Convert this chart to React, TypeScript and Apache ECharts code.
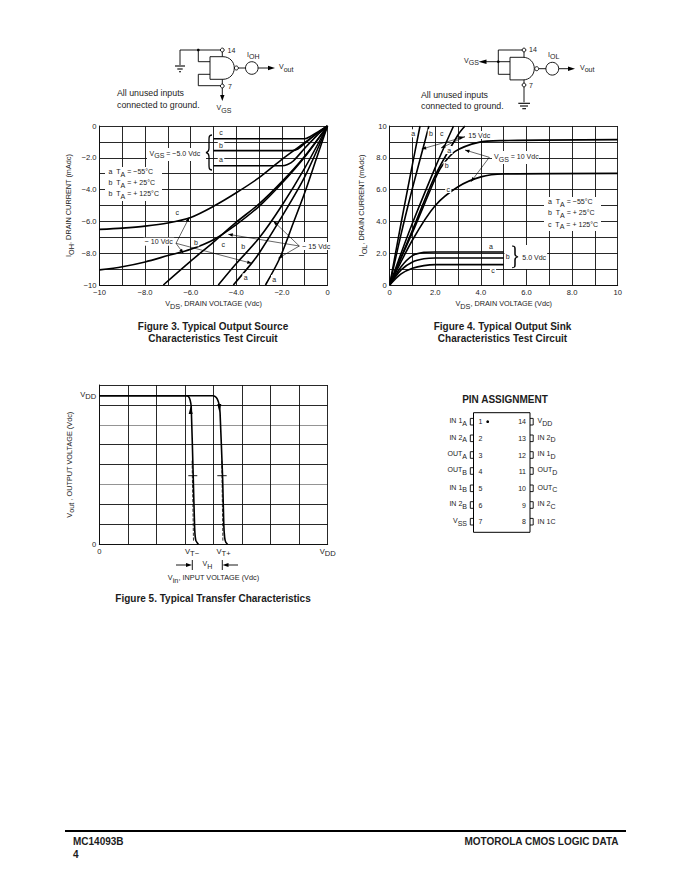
import React, { useEffect, useRef } from "react";
import * as echarts from "echarts";

// ---------- Figure 3 data (VDS, IOH) ----------
const fig3XLabels = ["−10", "", "−8.0", "", "−6.0", "", "−4.0", "", "−2.0", "", "0"];
const fig3YLabels = ["−10", "", "−8.0", "", "−6.0", "", "−4.0", "", "−2.0", "", "0"];
const src5a = [[-5, -2.5], [-2, -2.5], [-1.75, -2.42], [-1.5, -2.2], [-1, -1.4], [-0.5, -0.65], [0, 0]];
const src5b = [[-5, -1.55], [-1.55, -1.55], [-1.3, -1.45], [-1, -1.1], [-0.5, -0.5], [0, 0]];
const src5c = [[-5, -0.8], [-1, -0.8], [-0.75, -0.65], [-0.4, -0.35], [0, 0]];
const src10c = [[-10, -6.5], [-9, -6.42], [-8, -6.3], [-7, -6.1], [-6, -5.75], [-5, -5.05], [-4, -4.2], [-3, -3.25], [-2, -2.1], [-1, -1.05], [0, 0]];
const src10b = [[-10, -9.05], [-9, -8.85], [-8, -8.55], [-7, -8.15], [-6, -7.75], [-5, -7.15], [-4, -6.2], [-3, -5.05], [-2, -3.6], [-1, -1.95], [0, 0]];
const src15c = [[-7.2, -10], [-6, -8.5], [-5, -7.3], [-4, -6.05], [-3, -4.9], [-2, -3.5], [-1, -1.9], [0, 0]];
const src15b = [[-4.79, -10], [-4, -8.65], [-3, -7.05], [-2, -5.0], [-1, -2.65], [0, 0]];
const src10a = [[-4.13, -10], [-3.33, -8.64], [-3, -8.0], [-2, -5.7], [-1, -3.2], [0, 0]];
const src15a = [[-2.72, -10], [-2.09, -8.3], [-1.5, -6.1], [-1, -4.2], [-0.5, -2.1], [0, 0]];
const fig3Curves = [src5a, src5b, src5c, src10c, src10b, src15c, src15b, src10a, src15a];

// ---------- Figure 4 data (VDS, IOL) ----------
const fig4XLabels = ["0", "", "2.0", "", "4.0", "", "6.0", "", "8.0", "", "10"];
const fig4YLabels = ["0", "", "2.0", "", "4.0", "", "6.0", "", "8.0", "", "10"];
const snk5a = [[0, 0], [0.5, 1.15], [1, 1.85], [1.5, 2.05], [2, 2.08], [5, 2.08]];
const snk5b = [[0, 0], [0.5, 0.95], [1, 1.45], [1.5, 1.65], [2, 1.7], [5, 1.7]];
const snk5c = [[0, 0], [0.5, 0.7], [1, 1.05], [1.5, 1.22], [2, 1.28], [5, 1.28]];
const snk10c = [[0, 0], [1, 2.83], [2, 5.0], [3, 6.18], [4, 6.8], [5, 6.98], [10, 7.02]];
const snk10b = [[0, 0], [0.5, 1.7], [1, 3.3], [2, 6.7], [2.3, 7.5], [2.87, 8.4], [3.9, 8.97], [4.9, 9.08], [10, 9.14]];
const snkS1 = [[0, 0], [0.5, 3.9], [1, 7.6], [1.33, 10]];
const snkS2 = [[0, 0], [0.5, 3.2], [1, 6.1], [1.5, 8.8], [1.72, 10]];
const snkS3 = [[0, 0], [0.5, 2.0], [1, 3.9], [2, 7.4], [2.8, 10]];
const snkS4 = [[0, 0], [0.5, 1.75], [1, 3.45], [2, 6.9], [3, 9.45], [3.3, 10]];
const fig4Curves = [snk5a, snk5b, snk5c, snk10c, snk10b, snkS1, snkS2, snkS3, snkS4];

// ---------- Figure 5 data (Vin, Vout), arbitrary grid units ----------
const vddLevel = 7.46;
const vtMinus = 3.25;
const vtPlus = 4.35;
const riseCurve = [[0, 7.46], [3.04, 7.46], [3.12, 7.42], [3.18, 7.25], [3.22, 6.9], [3.29, 3.4], [3.34, 0.8], [3.38, 0.2], [3.47, 0]];
const fallCurve = [[0, 7.46], [3.98, 7.46], [4.05, 7.43], [4.13, 7.3], [4.2, 7.0], [4.23, 6.6], [4.32, 3.3], [4.36, 1.0], [4.39, 0.35], [4.43, 0.1], [4.49, 0]];
const riseDash = [[3.25, 4.2], [3.3, 0.1]];
const fallDash = [[4.29, 4.2], [4.33, 0.1]];

// ---------- Pin table ----------
const pinsLeft = ["IN 1~A~", "IN 2~A~", "OUT~A~", "OUT~B~", "IN 1~B~", "IN 2~B~", "V~SS~"];
const pinsRight = ["V~DD~", "IN 2~D~", "IN 1~D~", "OUT~D~", "OUT~C~", "IN 2~C~", "IN 1C"];
const pinRows = [421.7, 438.3, 455, 471, 488.3, 505, 521.7];

const FONT = '"Liberation Sans", Arial, sans-serif';
const INK = "#1c1c1c";
const BLACK = "#000";

echarts.graphic.registerShape(
  "brace",
  echarts.graphic.extendPath("M6 0 C3 0 3 2 3 5 L3 13 C3 16 2 17 0 17.5 C2 18 3 19 3 22 L3 30 C3 33 3 35 6 35", {})
);
echarts.graphic.registerShape(
  "nandGate",
  echarts.graphic.extendPath("M0 0 L13 0 C19.5 0 24.3 5 24.3 11.3 C24.3 17.6 19.5 22.6 13 22.6 L0 22.6 Z", {})
);

function richStyles(size: number, bold = false) {
  const common = { fontSize: size, fontFamily: FONT, fill: INK, color: INK, fontWeight: bold ? "bold" : "normal", lineHeight: size + 2.5 };
  return {
    n: { ...common, verticalAlign: "top" },
    s: { ...common, verticalAlign: "bottom" },
  };
}
function rt(s: string) {
  if (!s.includes("~")) return s;
  return s
    .split("~")
    .map((p, i) => (p === "" ? "" : `{${i % 2 ? "s" : "n"}|${p}}`))
    .join("");
}

type TOpt = { size?: number; bold?: boolean; align?: string; bg?: boolean; z?: number; pad?: number[]; sx?: number };
function T(x: number, y: number, s: string, o: TOpt = {}) {
  const size = o.size ?? 8;
  const style: any = {
    text: rt(s),
    fill: INK,
    fontSize: size,
    fontFamily: FONT,
    fontWeight: o.bold ? "bold" : "normal",
    align: o.align ?? "left",
    verticalAlign: "middle",
  };
  if (s.includes("~")) style.rich = richStyles(size, o.bold);
  if (o.bg) {
    style.backgroundColor = "#fff";
    style.padding = o.pad ?? [0, 1.5, 0, 1.5];
  }
  return { type: "text", x, y, scaleX: o.sx ?? (o.bold ? 1 : 0.88), z: o.z ?? 20, silent: true, style };
}
function R(x: number, y: number, width: number, height: number) {
  return { type: "rect", z: 19, silent: true, shape: { x, y, width, height }, style: { fill: "#fff" } };
}
function L(points: number[][], w = 0.9, color = BLACK, z = 21) {
  return { type: "polyline", z, silent: true, shape: { points }, style: { stroke: color, fill: "none", lineWidth: w } };
}
function head(tx: number, ty: number, hx: number, hy: number, len = 4.5, half = 1.7, z = 22) {
  const d = Math.hypot(hx - tx, hy - ty) || 1;
  const ux = (hx - tx) / d;
  const uy = (hy - ty) / d;
  const bx = hx - ux * len;
  const by = hy - uy * len;
  return {
    type: "polygon",
    z,
    silent: true,
    shape: { points: [[hx, hy], [bx - uy * half, by + ux * half], [bx + uy * half, by - ux * half]] },
    style: { fill: BLACK },
  };
}
function arrow(tx: number, ty: number, hx: number, hy: number, w = 0.6) {
  return [L([[tx, ty], [hx, hy]], w), head(tx, ty, hx, hy)];
}
function C(cx: number, cy: number, r: number, w = 0.9, z = 22) {
  return { type: "circle", z, silent: true, shape: { cx, cy, r }, style: { stroke: BLACK, fill: "#fff", lineWidth: w } };
}

function buildGraphics() {
  const g: any[] = [];
  const note = { size: 8.8, sx: 1 };

  // ---- Circuit A (source) ----
  g.push(
    L([[222.3, 50], [180, 50], [180, 65]]),
    L([[175, 66], [185, 66]], 1.1),
    L([[177.3, 69], [182.7, 69]], 1.1),
    L([[179, 71.7], [181, 71.7]], 1.1),
    L([[198.3, 50], [198.3, 61.7], [210, 61.7]]),
    L([[210, 74.3], [198.3, 74.3], [198.3, 85.7], [222.3, 85.7]]),
    L([[222.3, 50], [222.3, 56.7]]),
    L([[222.3, 79.3], [222.3, 85.7]]),
    { type: "circle", z: 22, silent: true, shape: { cx: 198.3, cy: 50, r: 1.3 }, style: { fill: BLACK } },
    { type: "nandGate", x: 210, y: 56.7, z: 21, silent: true, style: { stroke: BLACK, fill: "#fff", lineWidth: 0.9 } },
    C(222.3, 50, 1.9),
    C(222.3, 86, 1.9),
    C(236.4, 68, 2),
    L([[238.4, 68], [245.5, 68]]),
    C(251.8, 68, 6.3),
    L([[258.1, 68], [270, 68]]),
    head(258, 68, 275, 68, 7, 2.2),
    L([[222.3, 88], [222.3, 97]]),
    head(222.3, 88, 222.3, 101, 6, 2.2),
    T(227.5, 50, "14"),
    T(228, 86.7, "7"),
    T(247, 55.5, "I~OH~"),
    T(279, 68, "V~out~"),
    T(216.5, 109, "V~GS~"),
    T(117, 93, "All unused inputs", note),
    T(117, 104.5, "connected to ground.", note)
  );

  // ---- Circuit B (sink) ----
  g.push(
    L([[498.3, 61.7], [498.3, 50], [524, 50]]),
    L([[483, 61.7], [510, 61.7]]),
    head(495, 61.7, 478.5, 61.7, 8, 2.2),
    L([[498.3, 61.7], [498.3, 74.3], [510, 74.3]]),
    L([[524, 50], [524, 57.3]]),
    L([[524, 80], [524, 102.3]]),
    { type: "circle", z: 22, silent: true, shape: { cx: 498.3, cy: 61.7, r: 1.3 }, style: { fill: BLACK } },
    { type: "nandGate", x: 510, y: 57.3, z: 21, silent: true, style: { stroke: BLACK, fill: "#fff", lineWidth: 0.9 } },
    C(524, 50, 1.9),
    C(524, 85, 1.9),
    C(536.7, 68.7, 2),
    L([[538.7, 68.7], [546, 68.7]]),
    C(552.3, 68.7, 6.4),
    L([[558.7, 68.7], [570, 68.7]]),
    head(558, 68.7, 575, 68.7, 7, 2.2),
    L([[518.3, 103.3], [530, 103.3]], 1.1),
    L([[520, 106], [528, 106]], 1.1),
    L([[522.3, 108.7], [526, 108.7]], 1.1),
    T(529, 49.5, "14"),
    T(529, 85.5, "7"),
    T(548, 55.5, "I~OL~"),
    T(580, 68.5, "V~out~"),
    T(464, 61.5, "V~GS~"),
    T(421, 94.5, "All unused inputs", note),
    T(421, 106, "connected to ground.", note)
  );

  // ---- Figure 3 annotations ----
  g.push(
    R(105, 167, 57, 34),
    T(108.5, 173, "a  T~A~ = −55°C"),
    T(108.5, 184, "b  T~A~ = + 25°C"),
    T(108.5, 195, "b  T~A~ = + 125°C"),
    R(147, 148, 59, 13),
    T(149.5, 154.5, "V~GS~ = −5.0 Vdc"),
    { type: "brace", x: 206, y: 135, z: 21, silent: true, style: { stroke: BLACK, fill: "none", lineWidth: 1.3 } },
    T(221, 132.5, "c", { bg: true, align: "center" }),
    T(221, 145, "b", { bg: true, align: "center" }),
    T(221, 159, "a", { bg: true, align: "center" }),
    T(177.3, 212.7, "c", { align: "center", bg: true }),
    T(196, 242.3, "b", { align: "center", bg: true }),
    T(223.3, 244, "c", { align: "center", bg: true }),
    T(243.3, 246.7, "b", { align: "center", bg: true }),
    T(245.7, 277.3, "a", { align: "center", bg: true }),
    T(274.3, 279, "a", { align: "center", bg: true }),
    ...arrow(176, 243.3, 189.3, 217.3),
    ...arrow(176, 243.3, 183.3, 253.3),
    ...arrow(176, 243.3, 251.7, 263.3),
    T(143.5, 241.7, "− 10 Vdc", { bg: true }),
    ...arrow(299.3, 246, 273.3, 221),
    ...arrow(299.3, 246, 228.3, 234.3),
    ...arrow(299.3, 246, 278.3, 258.3),
    T(301, 246, "− 15 Vdc", { bg: true })
  );

  // ---- Figure 4 annotations ----
  g.push(
    T(413.3, 133.3, "a", { align: "center", bg: true }),
    T(431, 133.3, "b", { align: "center", bg: true }),
    T(441.7, 133.3, "c", { align: "center", bg: true }),
    ...arrow(465, 136.7, 421.7, 149),
    ...arrow(465, 136.7, 441, 148),
    head(452, 140, 464, 136.7, 5, 1.8),
    T(467, 135, "15 Vdc", { bg: true }),
    T(449.3, 150, "a", { align: "center", bg: true }),
    T(446.7, 165.7, "b", { align: "center", bg: true }),
    T(448.3, 189, "c", { align: "center", bg: true }),
    ...arrow(489.3, 157.3, 465, 150),
    ...arrow(489.3, 157.3, 471, 181.7),
    R(492, 151, 47, 13),
    T(494, 158, "V~GS~ = 10 Vdc"),
    R(544, 197, 57, 34),
    T(548, 203, "a  T~A~ = −55°C"),
    T(548, 214, "b  T~A~ = + 25°C"),
    T(548, 225.3, "c  T~A~ = + 125°C"),
    T(491, 246.7, "a", { align: "center", bg: true }),
    T(507.7, 256.7, "b", { align: "center", bg: true }),
    T(493, 270.7, "c", { align: "center", bg: true }),
    R(511, 245, 36, 24),
    { type: "brace", x: 518, y: 246, z: 21, silent: true, scaleX: -1, scaleY: 0.62, style: { stroke: BLACK, fill: "none", lineWidth: 1.5 } },
    T(521, 257.7, "5.0 Vdc", { bg: true })
  );

  // ---- Figure 5 annotations ----
  g.push(
    L([[188.3, 475.7], [197.3, 475.7]]),
    L([[217.3, 475.7], [226.7, 475.7]]),
    head(190.7, 415, 190.7, 406, 8, 2),
    head(219.3, 403, 219.3, 412, 8, 2),
    L([[176, 565], [188, 565]]),
    head(176, 565, 192, 565, 6, 2),
    L([[192.3, 560], [192.3, 570]]),
    T(202.5, 565, "V~H~"),
    L([[238, 565], [226, 565]]),
    head(238, 565, 222.5, 565, 6, 2),
    L([[222.3, 560], [222.3, 570]])
  );

  // ---- Captions ----
  g.push(
    T(213, 326, "Figure 3. Typical Output Source", { size: 10, bold: true, align: "center" }),
    T(213, 338, "Characteristics Test Circuit", { size: 10, bold: true, align: "center" }),
    T(502.5, 326, "Figure 4. Typical Output Sink", { size: 10, bold: true, align: "center" }),
    T(502.5, 338, "Characteristics Test Circuit", { size: 10, bold: true, align: "center" }),
    T(213, 598.5, "Figure 5. Typical Transfer Characteristics", { size: 10, bold: true, align: "center" })
  );

  // ---- Pin assignment ----
  g.push(T(505, 399.3, "PIN ASSIGNMENT", { size: 10, bold: true, align: "center" }));
  g.push({ type: "rect", z: 21, silent: true, shape: { x: 473.5, y: 412.7, width: 56.5, height: 119.6 }, style: { stroke: BLACK, fill: "#fff", lineWidth: 1 } });
  pinRows.forEach((y, i) => {
    g.push(L([[473.5, y - 3.3], [470.3, y - 3.3], [470.3, y + 3.3], [473.5, y + 3.3]], 0.9));
    g.push(L([[530, y - 3.3], [533.2, y - 3.3], [533.2, y + 3.3], [530, y + 3.3]], 0.9));
    g.push(T(467, y, pinsLeft[i], { align: "right" }));
    g.push(T(537.5, y, pinsRight[i]));
    g.push(T(480.5, y, String(i + 1), { align: "center", z: 23 }));
    g.push(T(526, y, String(14 - i), { align: "right", z: 23 }));
  });
  g.push({ type: "circle", z: 23, silent: true, shape: { cx: 487.7, cy: 421.7, r: 1.4 }, style: { fill: BLACK } });

  // ---- Footer ----
  g.push(
    { type: "rect", z: 21, silent: true, shape: { x: 65, y: 830, width: 561, height: 2 }, style: { fill: BLACK } },
    T(73, 841, "MC14093B", { size: 10, bold: true }),
    T(73, 854, "4", { size: 10, bold: true }),
    T(618.5, 841, "MOTOROLA CMOS LOGIC DATA", { size: 10, bold: true, align: "right" })
  );
  return g;
}

function lineSeries(data: number[][], axis: number, extra: any = {}) {
  return {
    type: "line",
    xAxisIndex: axis,
    yAxisIndex: axis,
    data,
    showSymbol: false,
    symbol: "none",
    smooth: 0.3,
    z: 5,
    silent: true,
    lineStyle: { color: BLACK, width: 1.6, ...(extra.lineStyle || {}) },
    ...(extra.smooth !== undefined ? { smooth: extra.smooth } : {}),
  };
}

const gridLine = (color: any = "#111") => ({ show: true, lineStyle: { color, width: 0.9, type: "solid" } });
const axisLine = { show: true, onZero: false, lineStyle: { color: "#111", width: 1 } };
const labelBase = { fontSize: 7.6, fontFamily: FONT, color: INK, hideOverlap: false, showMinLabel: true, showMaxLabel: true };
const NAME_SIZE = 7.3;

function valueAxis(min: number, max: number, labels: string[], name: string, nameGap: number, isY: boolean) {
  return {
    type: "value",
    min,
    max,
    interval: 1,
    name: rt(name),
    nameLocation: "middle",
    nameGap,
    nameRotate: isY ? 90 : 0,
    nameTextStyle: { fontSize: NAME_SIZE, fontFamily: FONT, color: INK, rich: richStyles(NAME_SIZE) },
    axisLine,
    axisTick: { show: false },
    splitLine: gridLine(),
    axisLabel: {
      ...labelBase,
      margin: 3,
      formatter: (v: number) => labels[Math.round(v - min)] ?? "",
    },
  };
}

export default function App() {
  const ref = useRef<HTMLDivElement>(null);
  useEffect(() => {
    document.body.style.margin = "0";
    const chart = echarts.init(ref.current!, undefined, { renderer: "svg" });
    const fig5Y = {
      ...valueAxis(0, 8, [], "V~out~ , OUTPUT VOLTAGE (Vdc)", 24, true),
      splitLine: gridLine(["#111", "#111", "#111", "#888", "#111", "#111", "#888", "#111", "#111"]),
      axisLabel: {
        ...labelBase,
        margin: 3,
        customValues: [0, vddLevel],
        rich: richStyles(7.6),
        formatter: (v: number) => (v === 0 ? "0" : rt("V~DD~")),
      },
    };
    const fig5X = {
      ...valueAxis(0, 8, [], "V~in~, INPUT VOLTAGE (Vdc)", 30, false),
      axisLabel: {
        ...labelBase,
        margin: 3,
        customValues: [0, vtMinus, vtPlus, 8],
        rich: richStyles(7.6),
        formatter: (v: number) => (v === 0 ? "0" : v === vtMinus ? rt("V~T−~") : v === vtPlus ? rt("V~T+~") : rt("V~DD~")),
      },
    };
    chart.setOption({
      animation: false,
      backgroundColor: "#fff",
      textStyle: { fontFamily: FONT },
      grid: [
        { left: 99.5, top: 126, width: 228, height: 159, containLabel: false },
        { left: 389.7, top: 126, width: 228, height: 159, containLabel: false },
        { left: 99.3, top: 385, width: 228.4, height: 159.3, containLabel: false },
      ],
      xAxis: [
        { ...valueAxis(-10, 0, fig3XLabels, "V~DS~, DRAIN VOLTAGE (Vdc)", 15, false), gridIndex: 0 },
        { ...valueAxis(0, 10, fig4XLabels, "V~DS~, DRAIN VOLTAGE (Vdc)", 15, false), gridIndex: 1 },
        { ...fig5X, gridIndex: 2 },
      ],
      yAxis: [
        { ...valueAxis(-10, 0, fig3YLabels, "I~OH~, DRAIN CURRENT (mAdc)", 25, true), gridIndex: 0 },
        { ...valueAxis(0, 10, fig4YLabels, "I~OL~, DRAIN CURRENT (mAdc)", 22, true), gridIndex: 1 },
        { ...fig5Y, gridIndex: 2 },
      ],
      series: [
        ...fig3Curves.map((d) => lineSeries(d, 0)),
        ...fig4Curves.map((d) => lineSeries(d, 1)),
        lineSeries(riseCurve, 2, { smooth: 0.15 }),
        lineSeries(fallCurve, 2, { smooth: 0.15 }),
        lineSeries(riseDash, 2, { smooth: false, lineStyle: { width: 0.8, type: "dashed" } }),
        lineSeries(fallDash, 2, { smooth: false, lineStyle: { width: 0.8, type: "dashed" } }),
      ],
      graphic: { elements: buildGraphics() },
    });
    return () => chart.dispose();
  }, []);
  return <div ref={ref} style={{ width: 680, height: 880, background: "#fff" }} />;
}
